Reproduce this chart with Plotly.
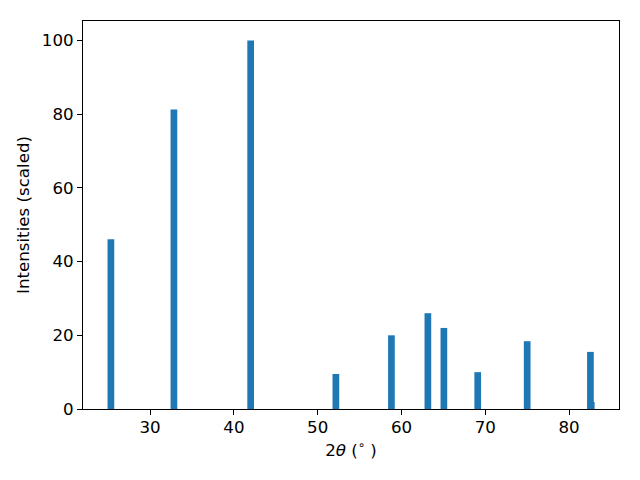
import plotly.graph_objects as go

# Data
two_theta = [25.32, 32.84, 42.0, 52.17, 58.8, 63.15, 65.06, 69.1, 75.0, 82.55, 82.65]
intensity = [46.1, 81.3, 100.0, 9.5, 20.0, 26.0, 22.0, 10.0, 18.4, 15.5, 1.9]
x_ticks = [30, 40, 50, 60, 70, 80]
y_ticks = [0, 20, 40, 60, 80, 100]

FONT = "DejaVu Sans"
FS = 16.67

fig = go.Figure()
fig.add_trace(go.Bar(
    x=two_theta,
    y=intensity,
    width=[0.8] * len(two_theta),
    marker=dict(color="#1f77b4", line=dict(width=0)),
))

axis_common = dict(
    showgrid=False,
    zeroline=False,
    showline=True,
    mirror=True,
    linecolor="black",
    linewidth=1,
    ticks="outside",
    ticklen=5,
    tickwidth=1,
    tickcolor="black",
    tickfont=dict(family=FONT, size=FS, color="black"),
)

fig.update_layout(
    width=640,
    height=480,
    margin=dict(l=83, r=21, t=21, b=71),
    plot_bgcolor="white",
    paper_bgcolor="white",
    showlegend=False,
    barmode="overlay",
    font=dict(family=FONT, size=FS, color="black"),
    xaxis=dict(
        range=[21.99, 85.96],
        tickvals=x_ticks,
        ticktext=[str(v) for v in x_ticks],
        ticklabelstandoff=-2,
        title=dict(text="2<i>θ</i> (<sup>∘</sup> )", font=dict(family=FONT, size=FS, color="black"), standoff=8),
        **axis_common,
    ),
    yaxis=dict(
        range=[0, 105.3],
        tickvals=y_ticks,
        ticktext=[str(v) for v in y_ticks],
        title=dict(text="Intensities (scaled)", font=dict(family=FONT, size=FS, color="black"), standoff=8),
        **axis_common,
    ),
)

fig.write_html(
    "out.html",
    config={"displayModeBar": False},
    post_script="document.body.style.margin='0';document.body.style.padding='0';",
)
